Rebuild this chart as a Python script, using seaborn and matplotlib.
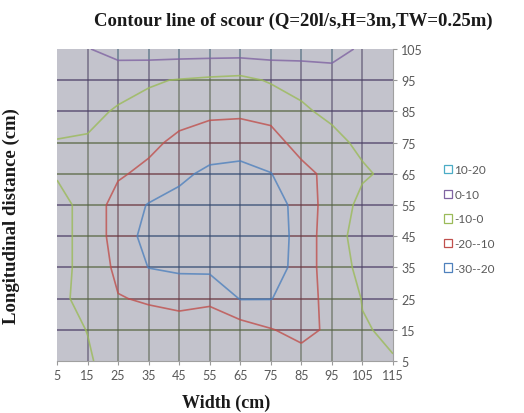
import numpy as np
import matplotlib
matplotlib.use("Agg")
import matplotlib.pyplot as plt
from matplotlib.collections import LineCollection
from matplotlib.patches import Patch
from matplotlib.colors import to_rgb
import seaborn as sns

# measuring grid (cm)
width_cm = [5, 15, 25, 35, 45, 55, 65, 75, 85, 95, 105, 115]
length_cm = [5, 15, 25, 35, 45, 55, 65, 75, 85, 95, 105]

# bed level change (cm) at every measuring point, one list per longitudinal station
depth_y5 = [1.0, 0.5, -2.0, -3.0, -3.0, -3.0, -3.0, -4.0, -6.0, -4.0, -2.0, -0.3]
depth_y15 = [1.5, -0.1, -5.0, -6.0, -7.0, -7.0, -5.0, -9.5, -13.0, -8.0, -0.5, 1.0]
depth_y25 = [1.5, -2.0, -9.5, -11.0, -12.0, -11.0, -20.5, -20.3, -15.0, -6.0, 0.3, 2.5]
depth_y35 = [2.0, -2.0, -12.5, -20.2, -22.0, -22.5, -24.0, -25.0, -16.0, -4.0, 2.0, 3.0]
depth_y45 = [2.0, -2.0, -15.0, -23.0, -26.0, -27.5, -28.0, -26.0, -16.0, -4.0, 4.0, 3.0]
depth_y55 = [2.0, -2.0, -15.0, -20.5, -23.0, -26.0, -27.0, -25.0, -16.0, -5.0, 2.2, 3.0]
depth_y65 = [-0.5, -3.0, -8.5, -13.0, -18.0, -22.0, -23.5, -20.3, -12.5, -7.5, -1.0, 1.8]
depth_y75 = [-0.5, -0.8, -4.0, -7.0, -13.0, -15.0, -15.0, -13.0, -7.0, -2.0, 1.5, 3.0]
depth_y85 = [4.0, 2.0, -0.8, -3.0, -5.0, -8.0, -8.5, -7.5, -1.0, 1.5, 3.0, 4.0]
depth_y95 = [5.0, 5.0, 3.0, 1.0, -0.5, -1.7, -2.6, 1.0, 2.0, 4.0, 5.0, 5.0]
depth_y105 = [6.0, 9.5, 14.0, 15.0, 15.0, 15.0, 15.0, 15.0, 15.0, 15.0, 8.0, 6.0]

band_edges = [-30, -20, -10, 0, 10, 20]
band_labels = ["-30--20", "-20--10", "-10-0", "0-10", "10-20"]
band_colors = ["#4F81BD", "#C0504D", "#9BBB59", "#8064A2", "#4BACC6"]

Z = np.array([depth_y5, depth_y15, depth_y25, depth_y35, depth_y45, depth_y55,
              depth_y65, depth_y75, depth_y85, depth_y95, depth_y105])
X = np.array(width_cm, dtype=float)
Y = np.array(length_cm, dtype=float)

sns.set_theme(style="white")
plt.rcParams["font.family"] = ["Lato", "DejaVu Sans"]

fig = plt.figure(figsize=(5.24, 4.14), dpi=100)
fig.patch.set_facecolor("white")
ax = fig.add_axes([57 / 524, 1 - 362 / 414, (393 - 57) / 524, (362 - 50) / 414])
ax.set_facecolor("#c3c3cc")

dark = np.array(to_rgb("#2e2e40"))


def band_rgb(v, mix):
    idx = int(np.clip(np.searchsorted(band_edges, v, side="right") - 1, 0, len(band_colors) - 1))
    c = np.array(to_rgb(band_colors[idx]))
    return tuple(c * (1 - mix) + dark * mix)


# wireframe mesh: every grid line tinted by the band it passes through
def mesh_line(xs, zs, horizontal, fixed, mix, lw, alpha):
    t = np.linspace(xs[0], xs[-1], 300)
    zt = np.interp(t, xs, zs)
    mid = 0.5 * (zt[:-1] + zt[1:])
    if horizontal:
        pts = np.column_stack([t, np.full_like(t, fixed)])
    else:
        pts = np.column_stack([np.full_like(t, fixed), t])
    segs = np.stack([pts[:-1], pts[1:]], axis=1)
    cols = [band_rgb(v, mix) for v in mid]
    ax.add_collection(LineCollection(segs, colors=cols, linewidths=lw, alpha=alpha, zorder=2))


for j, yv in enumerate(Y[1:-1], start=1):
    mesh_line(X, Z[j], True, yv, 0.55, 1.3, 0.75)
for i, xv in enumerate(X[1:-1], start=1):
    mesh_line(Y, Z[:, i], False, xv, 0.65, 1.1, 0.65)

# contour lines between the depth bands
ax.contour(X, Y, Z, levels=band_edges[1:-1], colors=band_colors[:4],
           linewidths=1.2, alpha=0.8, zorder=3)

ax.set_xlim(5, 115)
ax.set_ylim(5, 105)
ax.set_xticks(width_cm)
ax.set_yticks(length_cm)
ax.yaxis.tick_right()
ax.tick_params(axis="both", labelsize=9, labelcolor="#595959", color="#9a9a9a",
               length=3, width=0.8, direction="out", pad=3)
ax.tick_params(axis="x", bottom=True)
ax.tick_params(axis="y", right=True, left=False)
for side in ["left", "top"]:
    ax.spines[side].set_visible(False)
for side in ["bottom", "right"]:
    ax.spines[side].set_color("#a0a0a0")
    ax.spines[side].set_linewidth(0.8)
ax.grid(False)

serif = ["Liberation Serif", "DejaVu Serif"]
fig.text(293 / 524, 1 - 21 / 414, "Contour line of scour (Q=20l/s,H=3m,TW=0.25m)",
         ha="center", va="center", fontsize=13.5, fontweight="bold", family=serif, color="#1a1a1a")
fig.text(226 / 524, 1 - 403 / 414, "Width (cm)", ha="center", va="center",
         fontsize=13, fontweight="bold", family=serif, color="#1a1a1a")
fig.text(11 / 524, 1 - 216 / 414, "Longitudinal distance (cm)", ha="center", va="center",
         rotation=90, fontsize=13.5, fontweight="bold", family=serif, color="#1a1a1a")

handles = [Patch(facecolor="white", edgecolor=c, linewidth=0.9, label=l)
           for l, c in zip(band_labels[::-1], band_colors[::-1])]
leg = fig.legend(handles=handles, loc="center left", bbox_to_anchor=(438 / 524, 1 - 220 / 414),
                 frameon=False, fontsize=8.5, handlelength=0.7, handleheight=0.7,
                 handletextpad=0.2, labelspacing=1.15, borderpad=0)
for txt in leg.get_texts():
    txt.set_color("#595959")

fig.savefig("out.png", dpi=100, facecolor="white")
